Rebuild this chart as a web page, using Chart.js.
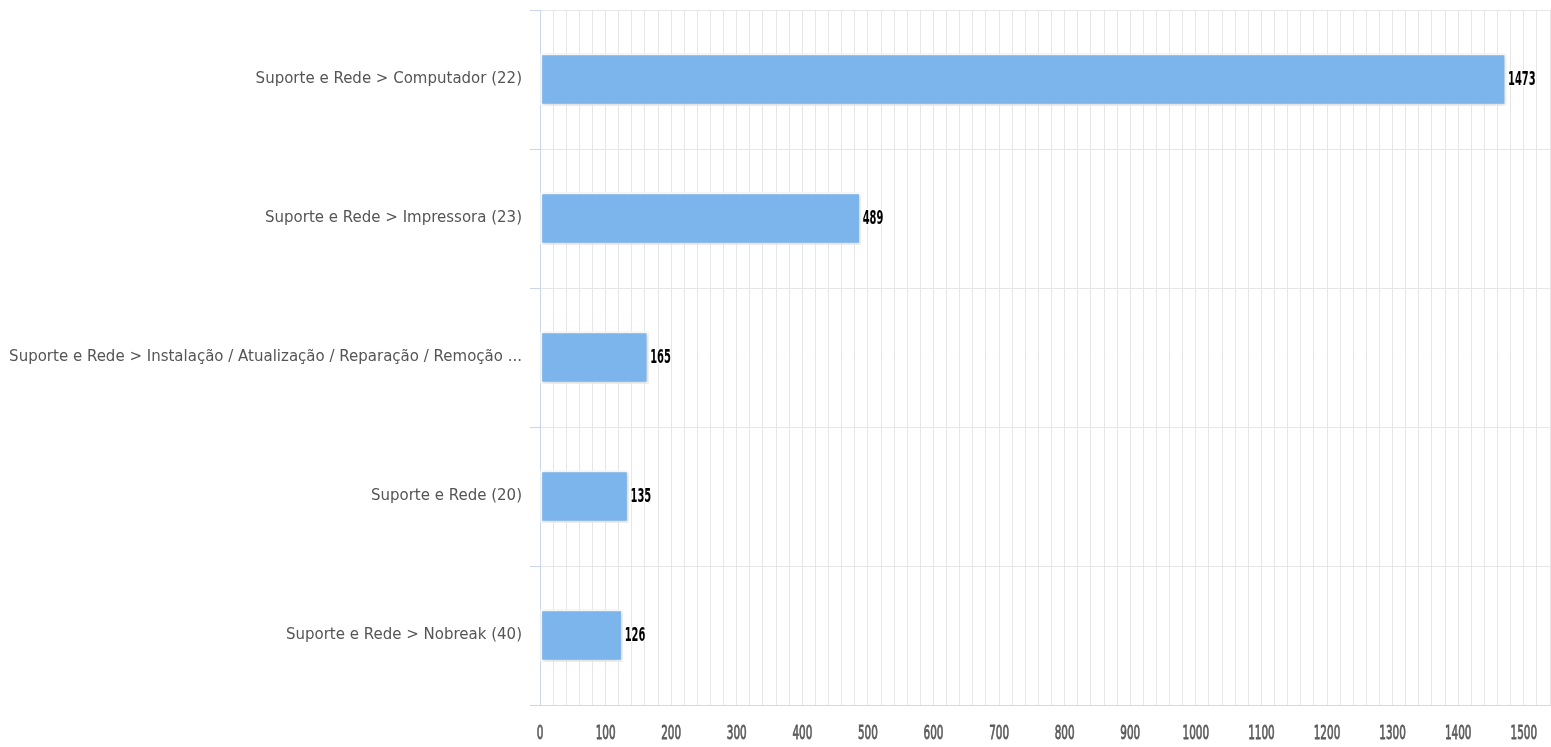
<!DOCTYPE html>
<html>
<head>
<meta charset="utf-8">
<script src="https://cdn.jsdelivr.net/npm/chart.js@4"></script>
<style>
  html, body { margin: 0; padding: 0; background: #fff; overflow: hidden; }
  #wrap { position: absolute; left: 0; top: 0; width: 1551px; height: 747px; }
  #chartCanvas { display: block; }
</style>
</head>
<body>
<div id="wrap"><canvas id="chartCanvas"></canvas></div>
<script>
const categories = [
    'Suporte e Rede > Computador (22)',
    'Suporte e Rede > Impressora (23)',
    'Suporte e Rede > Instalação / Atualização / Reparação / Remoção ...',
    'Suporte e Rede (20)',
    'Suporte e Rede > Nobreak (40)'
];
const counts = [1473, 489, 165, 135, 126];
const axisMax = 1540;
const tickStep = 20;
const labelStep = 100;

const narrowFont = '"DejaVu Sans Condensed", "Liberation Sans Narrow", "Liberation Sans", sans-serif';
const labelFont = 'Tahoma, "DejaVu Sans", "Liberation Sans", sans-serif';

// squeezed text, to get the tall narrow digits of the original
function narrowText(ctx, text, x, y, squeeze, align) {
    ctx.save();
    ctx.translate(x, y);
    ctx.scale(squeeze, 1);
    ctx.textAlign = align;
    ctx.strokeText(text, 0, 0);
    ctx.fillText(text, 0, 0);
    ctx.restore();
}

const valueLabels = {
    id: 'valueLabels',
    afterDatasetsDraw(chart) {
        const ctx = chart.ctx;
        const meta = chart.getDatasetMeta(0);
        ctx.save();
        ctx.font = 'bold 19px ' + narrowFont;
        ctx.textBaseline = 'middle';
        ctx.lineJoin = 'round';
        ctx.strokeStyle = '#fff';
        ctx.lineWidth = 3;
        ctx.fillStyle = '#000';
        meta.data.forEach((bar, i) => {
            narrowText(ctx, String(counts[i]), bar.x + 2, bar.y + 1, 0.58, 'left');
        });
        ctx.restore();
    }
};

// x tick labels drawn from the x scale's own ticks
const xLabels = {
    id: 'xLabels',
    afterDraw(chart) {
        const ctx = chart.ctx;
        const scale = chart.scales.x;
        ctx.save();
        ctx.font = '20px ' + narrowFont;
        ctx.textBaseline = 'middle';
        ctx.strokeStyle = '#5a5a5a';
        ctx.lineWidth = 0.8;
        ctx.fillStyle = '#5a5a5a';
        scale.ticks.forEach(t => {
            if (t.value % labelStep !== 0) return;
            narrowText(ctx, String(t.value), scale.getPixelForValue(t.value), scale.bottom - 13, 0.58, 'center');
        });
        ctx.restore();
    }
};

const barShadow = {
    id: 'barShadow',
    beforeDatasetDraw(chart) {
        const ctx = chart.ctx;
        ctx.save();
        ctx.shadowColor = 'rgba(0,0,0,0.18)';
        ctx.shadowBlur = 4;
        ctx.shadowOffsetX = 1;
        ctx.shadowOffsetY = 1;
    },
    afterDatasetDraw(chart) {
        chart.ctx.restore();
    }
};

new Chart(document.getElementById('chartCanvas'), {
    type: 'bar',
    data: {
        labels: categories,
        datasets: [{
            data: counts,
            backgroundColor: '#7cb5ec',
            borderColor: '#ffffff',
            borderWidth: 2,
            borderSkipped: false,
            barThickness: 52
        }]
    },
    options: {
        indexAxis: 'y',
        responsive: true,
        maintainAspectRatio: false,
        animation: false,
        layout: { padding: { top: 10, right: 1, left: 0, bottom: 0 } },
        plugins: {
            legend: { display: false },
            tooltip: { enabled: false }
        },
        scales: {
            x: {
                min: 0,
                max: axisMax,
                grid: { color: '#e6e6e6', drawTicks: false, lineWidth: 1 },
                border: { color: '#d8d8d8' },
                afterFit(scale) {
                    scale.height = 42;
                    scale.paddingLeft = 0;
                    scale.paddingRight = 0;
                },
                ticks: {
                    stepSize: tickStep,
                    autoSkip: false,
                    maxRotation: 0,
                    display: false
                }
            },
            y: {
                grid: { color: '#e6e6e6', tickColor: '#ccd6eb', tickLength: 10, offset: true },
                border: { color: '#ccd6eb' },
                afterFit(scale) {
                    scale.width = 540;
                    scale.paddingTop = 0;
                    scale.paddingBottom = 0;
                },
                ticks: {
                    padding: 8,
                    color: '#555',
                    font: { family: labelFont, size: 15 }
                }
            }
        }
    },
    plugins: [barShadow, valueLabels, xLabels]
});
</script>
</body>
</html>
